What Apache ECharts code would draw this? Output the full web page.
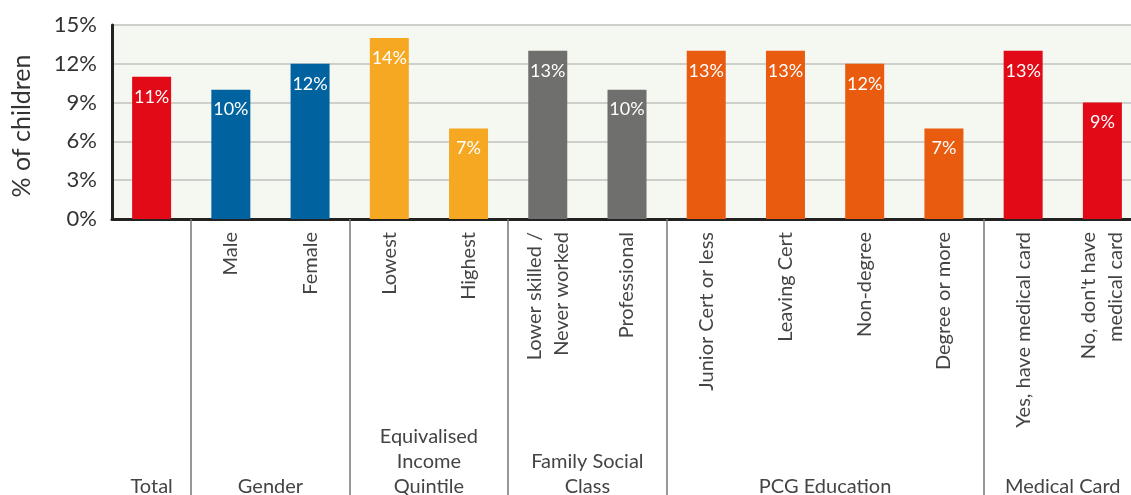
<!DOCTYPE html>
<html>
<head>
<meta charset="utf-8">
<script src="https://cdn.jsdelivr.net/npm/echarts@6/dist/echarts.min.js"></script>
<style>
  html, body { margin: 0; padding: 0; background: #fff; }
  #main { width: 1131px; height: 495px; }
</style>
</head>
<body>
<div id="main"></div>
<script>
const categories = [
  '', 'Male', 'Female', 'Lowest', 'Highest',
  'Lower skilled /\nNever worked', 'Professional',
  'Junior Cert or less', 'Leaving Cert', 'Non-degree', 'Degree or more',
  'Yes, have medical card', "No, don't have\nmedical card"
];
const values = [11, 10, 12, 14, 7, 13, 10, 13, 13, 12, 7, 13, 9];
const groupOf = [0, 1, 1, 2, 2, 3, 3, 4, 4, 4, 4, 5, 5];
const groupNames = ['Total', 'Gender', 'Equivalised\nIncome\nQuintile', 'Family Social\nClass', 'PCG Education', 'Medical Card'];
const groupColors = ['#E20A17', '#0063A0', '#F6A823', '#6F6F6E', '#E95B0F', '#E20A17'];
const yTicks = [0, 3, 6, 9, 12, 15];

const FONT = 'Lato';
var chartDom = document.getElementById('main');
var myChart = echarts.init(chartDom);

// first index of each group except the first -> separator ticks
const groupStarts = groupOf.map((g, i) => (i > 0 && g !== groupOf[i - 1]) ? i : -1).filter(i => i >= 0);

var option = {
  animation: false,
  textStyle: { fontFamily: FONT },
  grid: {
    left: 112,
    top: 25,
    width: 1030,
    height: 194,
    outerBoundsMode: 'none',
    show: true,
    backgroundColor: '#F5F7F1',
    borderWidth: 0
  },
  xAxis: {
    type: 'category',
    data: categories,
    axisLine: { lineStyle: { color: '#222', width: 3 } },
    axisTick: {
      show: true,
      interval: (index) => groupStarts.indexOf(index) >= 0,
      length: 280,
      lineStyle: { color: '#777', width: 1.5 }
    },
    axisLabel: {
      interval: 0,
      rotate: 90,
      margin: 13,
      fontSize: 20,
      lineHeight: 27,
      color: '#444',
      fontFamily: FONT
    }
  },
  yAxis: {
    type: 'value',
    min: 0,
    max: 15,
    interval: 3,
    name: '% of children',
    nameLocation: 'middle',
    nameGap: 78,
    nameTextStyle: { fontSize: 25, color: '#333', fontFamily: FONT, padding: [0, 0, 0, -8] },
    axisLine: { show: true, lineStyle: { color: '#222', width: 3 } },
    axisTick: { show: false },
    axisLabel: {
      formatter: (v) => yTicks.indexOf(v) >= 0 ? v + '%' : '',
      fontSize: 22,
      color: '#333',
      margin: 15,
      fontFamily: FONT
    },
    splitLine: { lineStyle: { color: '#CFCFCB', width: 2 } }
  },
  series: [{
    type: 'bar',
    barWidth: 39,
    data: values.map((v, i) => ({ value: v, itemStyle: { color: groupColors[groupOf[i]] } })),
    label: {
      show: true,
      position: 'insideTop',
      distance: 11,
      formatter: '{c}%',
      color: '#fff',
      fontSize: 18,
      fontFamily: FONT
    }
  }]
};

myChart.setOption(option);

// group names centred under each group of bars
const groupLabels = groupNames.map((name, g) => {
  const idx = groupOf.map((x, i) => x === g ? i : -1).filter(i => i >= 0);
  const x0 = myChart.convertToPixel({ xAxisIndex: 0 }, idx[0]);
  const x1 = myChart.convertToPixel({ xAxisIndex: 0 }, idx[idx.length - 1]);
  const yBase = myChart.convertToPixel({ yAxisIndex: 0 }, 0);
  return {
    type: 'text',
    x: (x0 + x1) / 2,
    y: yBase + 280,
    style: {
      text: name,
      fontSize: 20,
      lineHeight: 25,
      fontFamily: FONT,
      fill: '#444',
      align: 'center',
      verticalAlign: 'bottom'
    }
  };
});
myChart.setOption({ graphic: groupLabels });
</script>
</body>
</html>
